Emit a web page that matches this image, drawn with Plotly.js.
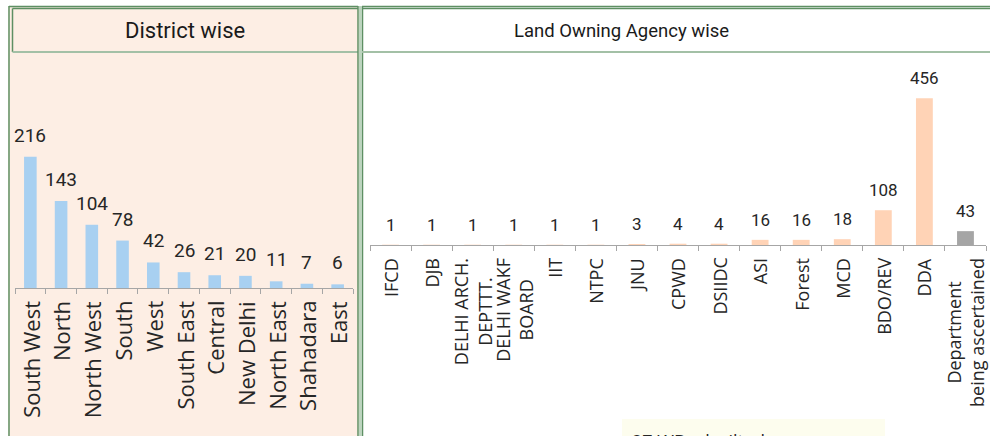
<!DOCTYPE html>
<html>
<head>
<meta charset="utf-8">
<script src="https://cdn.plot.ly/plotly-3.0.1.min.js"></script>
<style>html,body{margin:0;padding:0;background:#fff;}#chart{width:990px;height:436px;}</style>
</head>
<body>
<div id="chart"></div>
<script>
// ---- data ----
const districtLabels = ["South West","North","North West","South","West","South East","Central","New Delhi","North East","Shahadara","East"];
const districtValues = [216,143,104,78,42,26,21,20,11,7,6];

const agencyLabels = ["IFCD","DJB","DELHI ARCH.<br>DEPTTT.","DELHI WAKF<br>BOARD","IIT","NTPC","JNU","CPWD","DSIIDC","ASI","Forest","MCD","BDO/REV","DDA","Department<br>being ascertained"];
const agencyValues = [1,1,1,1,1,1,3,4,4,16,16,18,108,456,43];

const panelTitles = ["District wise","Land Owning Agency wise"];
const footnoteText = "27 WBs desilted";

// ---- helpers ----
const W = 990, H = 436;
const px = x => x / W;
const py = y => 1 - y / H;
const GREEN = '#5E8F63', LGREEN = '#A3C0A6';
const NUMFONT = 'Roboto, Liberation Sans, sans-serif';
const LBLFONT = 'Open Sans, Liberation Sans, sans-serif';

const agencyColors = agencyValues.map((v, i) => i === agencyValues.length - 1 ? '#A5A5A5' : '#FFD3B6');

const traces = [
  {type:'bar', x: districtLabels, y: districtValues, xaxis:'x', yaxis:'y',
   marker:{color:'#A8D0F1'}, width:0.41, hoverinfo:'skip'},
  {type:'bar', x: agencyLabels, y: agencyValues, xaxis:'x2', yaxis:'y2',
   marker:{color: agencyColors}, width:0.41, hoverinfo:'skip'}
];

const annotations = [];
// panel titles
annotations.push({xref:'paper', yref:'paper', x:px(185), y:py(31), text:panelTitles[0], showarrow:false,
  xanchor:'center', yanchor:'middle', font:{family:NUMFONT, size:22, color:'#1a1a1a'}});
annotations.push({xref:'paper', yref:'paper', x:px(621), y:py(31), text:panelTitles[1], showarrow:false,
  xanchor:'center', yanchor:'middle', font:{family:NUMFONT, size:18.5, color:'#1a1a1a'}});

// value labels
districtValues.forEach((v, i) => annotations.push({xref:'x', yref:'y', x:districtLabels[i], y:v, text:String(v),
  showarrow:false, yanchor:'bottom', yshift:8, font:{family:NUMFONT, size:19, color:'#262626'}}));
agencyValues.forEach((v, i) => annotations.push({xref:'x2', yref:'y2', x:agencyLabels[i], y:v, text:String(v),
  showarrow:false, yanchor:'bottom', yshift:8, font:{family:NUMFONT, size:17, color:'#262626'}}));

// category labels (rotated, centered multi-line)
districtLabels.forEach(l => annotations.push({xref:'x', yref:'y', x:l, y:0, text:l, showarrow:false,
  textangle:-90, align:'center', xanchor:'center', yanchor:'top', yshift:-11,
  font:{family:LBLFONT, size:22, color:'#262626'}}));
agencyLabels.forEach(l => annotations.push({xref:'x2', yref:'y2', x:l, y:0, text:l, showarrow:false,
  textangle:-90, align:'center', xanchor:'center', yanchor:'top', yshift:-11,
  font:{family:LBLFONT, size:18, color:'#262626'}}));

// footnote box text (clipped at bottom, as in the source)
annotations.push({xref:'paper', yref:'paper', x:px(630), y:py(427), text:footnoteText, showarrow:false,
  xanchor:'left', yanchor:'top', font:{family:LBLFONT, size:18, color:'#262626'}});

const line = (x0,y0,x1,y1,color,width) => ({type:'line', xref:'paper', yref:'paper', x0:px(x0), y0:py(y0), x1:px(x1), y1:py(y1), line:{color, width}, layer:'below'});
const rect = (x0,y0,x1,y1,fill) => ({type:'rect', xref:'paper', yref:'paper', x0:px(x0), y0:py(y0), x1:px(x1), y1:py(y1), fillcolor:fill, line:{width:0}, layer:'below'});

const shapes = [
  rect(8, 6, 358.5, 440, '#FDEEE4'),
  rect(359, 6, 361.5, 440, '#BCD5BE'),
  rect(622, 419, 885, 440, '#FDFDEE'),
  line(9, 6, 9, 440, GREEN, 1.5),
  line(9, 6.5, 358, 6.5, GREEN, 1.5),
  line(12.5, 8.5, 358, 8.5, GREEN, 1.5),
  line(12.5, 8.5, 12.5, 52, GREEN, 1.5),
  line(12.5, 52, 358, 52, LGREEN, 2),
  line(358, 6, 358, 440, GREEN, 1.5),
  line(362.5, 6, 362.5, 440, GREEN, 1.5),
  line(362, 6.5, 990, 6.5, GREEN, 1.5),
  line(362, 8.5, 990, 8.5, GREEN, 1.5),
  line(362, 52, 990, 52, LGREEN, 2)
];

const axisCommon = {type:'category', showline:true, linecolor:'#A6A6A6', linewidth:1, ticks:'outside',
  tickson:'boundaries', ticklen:5, tickcolor:'#A6A6A6', tickwidth:1, showticklabels:false, showgrid:false, zeroline:false, fixedrange:true};
const yCommon = {visible:false, showgrid:false, zeroline:false, fixedrange:true};

const layout = {
  width: W, height: H,
  margin:{l:0, r:0, t:0, b:0, pad:0},
  paper_bgcolor:'#ffffff', plot_bgcolor:'rgba(0,0,0,0)',
  showlegend:false, bargap:0.59,
  xaxis: Object.assign({}, axisCommon, {domain:[px(15), px(353)], anchor:'y', range:[-0.5, 10.5]}),
  yaxis: Object.assign({}, yCommon, {domain:[py(288), py(288 - 250*0.608)], range:[0, 250], anchor:'x'}),
  xaxis2: Object.assign({}, axisCommon, {domain:[px(370), px(986)], anchor:'y2', range:[-0.5, 14.5]}),
  yaxis2: Object.assign({}, yCommon, {domain:[py(245), py(245 - 500*0.322)], range:[0, 500], anchor:'x2'}),
  shapes, annotations
};

Plotly.newPlot('chart', traces, layout, {displayModeBar:false, staticPlot:true});
</script>
</body>
</html>
